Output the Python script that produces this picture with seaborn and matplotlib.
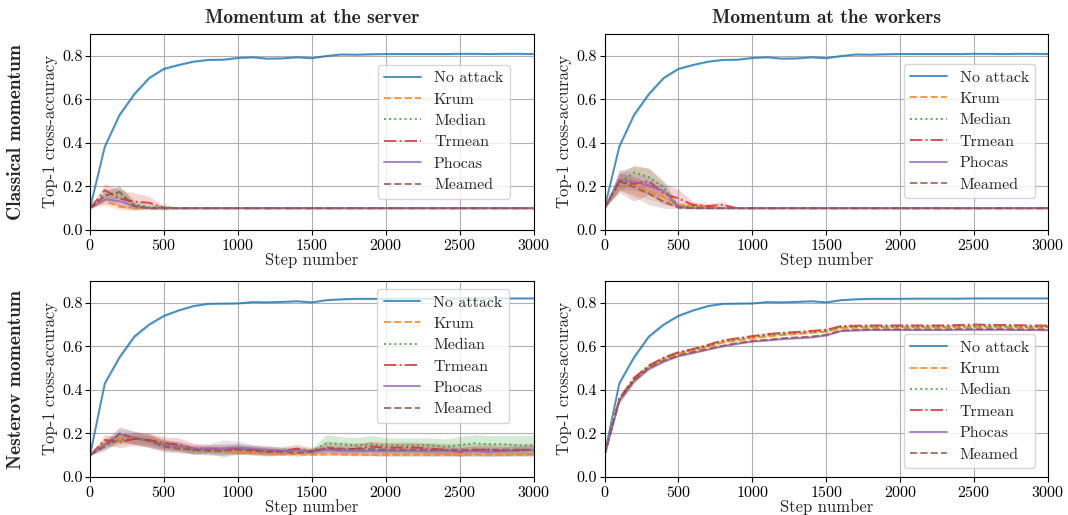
import matplotlib
matplotlib.use("Agg")
import matplotlib.pyplot as plt
import seaborn as sns
import numpy as np

# ---------------------------------------------------------------- data
STEPS = list(range(0, 3001, 100))
METHODS = ["No attack", "Krum", "Median", "Trmean", "Phocas", "Meamed"]
COL_TITLES = ["Momentum at the server", "Momentum at the workers"]
ROW_TITLES = ["Classical momentum", "Nesterov momentum"]

# Classical momentum, no attack (same curve for both placements)
NA_CLASSICAL = [0.100, 0.383, 0.529, 0.624, 0.698, 0.740, 0.758, 0.773, 0.781, 0.782,
                0.790, 0.793, 0.787, 0.788, 0.793, 0.789, 0.799, 0.806, 0.805, 0.807,
                0.808, 0.808, 0.808, 0.808, 0.808, 0.809, 0.809, 0.808, 0.809, 0.809, 0.808]
NA_CLASSICAL_SD = [0.004, 0.008, 0.010, 0.010, 0.008, 0.006, 0.005, 0.004, 0.004, 0.004,
                   0.004, 0.004, 0.004, 0.004, 0.004, 0.004, 0.004, 0.004, 0.004, 0.004,
                   0.004, 0.004, 0.004, 0.004, 0.004, 0.004, 0.004, 0.004, 0.004, 0.004, 0.004]

# Nesterov momentum, no attack
NA_NESTEROV = [0.100, 0.430, 0.550, 0.645, 0.700, 0.740, 0.765, 0.785, 0.795, 0.796,
               0.797, 0.803, 0.802, 0.804, 0.807, 0.802, 0.812, 0.816, 0.818, 0.818,
               0.818, 0.819, 0.819, 0.819, 0.819, 0.820, 0.820, 0.820, 0.820, 0.820, 0.820]
NA_NESTEROV_SD = NA_CLASSICAL_SD

# Classical momentum at the server
KRUM_CS = [0.100, 0.135, 0.107, 0.102, 0.100, 0.100, 0.100, 0.100, 0.100, 0.100,
           0.100, 0.100, 0.100, 0.100, 0.100, 0.100, 0.100, 0.100, 0.100, 0.100,
           0.100, 0.100, 0.100, 0.100, 0.100, 0.100, 0.100, 0.100, 0.100, 0.100, 0.100]
MEDIAN_CS = [0.100, 0.160, 0.168, 0.118, 0.105, 0.105, 0.100, 0.100, 0.100, 0.100,
             0.100, 0.100, 0.100, 0.100, 0.100, 0.100, 0.100, 0.100, 0.100, 0.100,
             0.100, 0.100, 0.100, 0.100, 0.100, 0.100, 0.100, 0.100, 0.100, 0.100, 0.100]
TRMEAN_CS = [0.100, 0.183, 0.145, 0.130, 0.125, 0.102, 0.100, 0.100, 0.100, 0.100,
             0.100, 0.100, 0.100, 0.100, 0.100, 0.100, 0.100, 0.100, 0.100, 0.100,
             0.100, 0.100, 0.100, 0.100, 0.100, 0.100, 0.100, 0.100, 0.100, 0.100, 0.100]
PHOCAS_CS = [0.100, 0.140, 0.132, 0.110, 0.100, 0.100, 0.100, 0.100, 0.100, 0.100,
             0.100, 0.100, 0.100, 0.100, 0.100, 0.100, 0.100, 0.100, 0.100, 0.100,
             0.100, 0.100, 0.100, 0.100, 0.100, 0.100, 0.100, 0.100, 0.100, 0.100, 0.100]
MEAMED_CS = [0.100, 0.158, 0.175, 0.110, 0.100, 0.100, 0.100, 0.100, 0.100, 0.100,
             0.100, 0.100, 0.100, 0.100, 0.100, 0.100, 0.100, 0.100, 0.100, 0.100,
             0.100, 0.100, 0.100, 0.100, 0.100, 0.100, 0.100, 0.100, 0.100, 0.100, 0.100]
KRUM_CS_SD = [0.0, 0.020, 0.015, 0.008, 0.0, 0.0, 0.0, 0.0, 0.0, 0.0, 0.0, 0.0, 0.0, 0.0, 0.0, 0.0,
              0.0, 0.0, 0.0, 0.0, 0.0, 0.0, 0.0, 0.0, 0.0, 0.0, 0.0, 0.0, 0.0, 0.0, 0.0]
MEDIAN_CS_SD = [0.0, 0.020, 0.030, 0.020, 0.010, 0.015, 0.004, 0.0, 0.0, 0.0, 0.0, 0.0, 0.0, 0.0, 0.0, 0.0,
                0.0, 0.0, 0.0, 0.0, 0.0, 0.0, 0.0, 0.0, 0.0, 0.0, 0.0, 0.0, 0.0, 0.0, 0.0]
TRMEAN_CS_SD = [0.0, 0.030, 0.040, 0.040, 0.030, 0.005, 0.0, 0.0, 0.0, 0.0, 0.0, 0.0, 0.0, 0.0, 0.0, 0.0,
                0.0, 0.0, 0.0, 0.0, 0.0, 0.0, 0.0, 0.0, 0.0, 0.0, 0.0, 0.0, 0.0, 0.0, 0.0]
PHOCAS_CS_SD = [0.0, 0.020, 0.020, 0.010, 0.0, 0.0, 0.0, 0.0, 0.0, 0.0, 0.0, 0.0, 0.0, 0.0, 0.0, 0.0,
                0.0, 0.0, 0.0, 0.0, 0.0, 0.0, 0.0, 0.0, 0.0, 0.0, 0.0, 0.0, 0.0, 0.0, 0.0]
MEAMED_CS_SD = [0.0, 0.020, 0.030, 0.015, 0.0, 0.0, 0.0, 0.0, 0.0, 0.0, 0.0, 0.0, 0.0, 0.0, 0.0, 0.0,
                0.0, 0.0, 0.0, 0.0, 0.0, 0.0, 0.0, 0.0, 0.0, 0.0, 0.0, 0.0, 0.0, 0.0, 0.0]

# Classical momentum at the workers
KRUM_CW = [0.100, 0.220, 0.205, 0.180, 0.152, 0.115, 0.112, 0.107, 0.100, 0.100,
           0.100, 0.100, 0.100, 0.100, 0.100, 0.100, 0.100, 0.100, 0.100, 0.100,
           0.100, 0.100, 0.100, 0.100, 0.100, 0.100, 0.100, 0.100, 0.100, 0.100, 0.100]
MEDIAN_CW = [0.100, 0.215, 0.264, 0.242, 0.197, 0.107, 0.107, 0.100, 0.100, 0.100,
             0.100, 0.100, 0.100, 0.100, 0.100, 0.100, 0.100, 0.100, 0.100, 0.100,
             0.100, 0.100, 0.100, 0.100, 0.100, 0.100, 0.100, 0.100, 0.100, 0.100, 0.100]
TRMEAN_CW = [0.100, 0.222, 0.212, 0.225, 0.167, 0.145, 0.115, 0.110, 0.115, 0.100,
             0.100, 0.100, 0.100, 0.100, 0.100, 0.100, 0.100, 0.100, 0.100, 0.100,
             0.100, 0.100, 0.100, 0.100, 0.100, 0.100, 0.100, 0.100, 0.100, 0.100, 0.100]
PHOCAS_CW = [0.100, 0.232, 0.222, 0.204, 0.180, 0.107, 0.100, 0.100, 0.100, 0.100,
             0.100, 0.100, 0.100, 0.100, 0.100, 0.100, 0.100, 0.100, 0.100, 0.100,
             0.100, 0.100, 0.100, 0.100, 0.100, 0.100, 0.100, 0.100, 0.100, 0.100, 0.100]
MEAMED_CW = [0.100, 0.225, 0.197, 0.167, 0.130, 0.103, 0.100, 0.100, 0.100, 0.100,
             0.100, 0.100, 0.100, 0.100, 0.100, 0.100, 0.100, 0.100, 0.100, 0.100,
             0.100, 0.100, 0.100, 0.100, 0.100, 0.100, 0.100, 0.100, 0.100, 0.100, 0.100]
KRUM_CW_SD = [0.0, 0.040, 0.040, 0.040, 0.030, 0.010, 0.012, 0.008, 0.0, 0.0, 0.0, 0.0, 0.0, 0.0, 0.0, 0.0,
              0.0, 0.0, 0.0, 0.0, 0.0, 0.0, 0.0, 0.0, 0.0, 0.0, 0.0, 0.0, 0.0, 0.0, 0.0]
MEDIAN_CW_SD = [0.0, 0.040, 0.035, 0.040, 0.030, 0.010, 0.010, 0.0, 0.0, 0.0, 0.0, 0.0, 0.0, 0.0, 0.0, 0.0,
                0.0, 0.0, 0.0, 0.0, 0.0, 0.0, 0.0, 0.0, 0.0, 0.0, 0.0, 0.0, 0.0, 0.0, 0.0]
TRMEAN_CW_SD = [0.0, 0.050, 0.080, 0.060, 0.050, 0.040, 0.015, 0.012, 0.015, 0.0, 0.0, 0.0, 0.0, 0.0, 0.0, 0.0,
                0.0, 0.0, 0.0, 0.0, 0.0, 0.0, 0.0, 0.0, 0.0, 0.0, 0.0, 0.0, 0.0, 0.0, 0.0]
PHOCAS_CW_SD = [0.0, 0.045, 0.040, 0.040, 0.030, 0.008, 0.0, 0.0, 0.0, 0.0, 0.0, 0.0, 0.0, 0.0, 0.0, 0.0,
                0.0, 0.0, 0.0, 0.0, 0.0, 0.0, 0.0, 0.0, 0.0, 0.0, 0.0, 0.0, 0.0, 0.0, 0.0]
MEAMED_CW_SD = [0.0, 0.040, 0.045, 0.050, 0.030, 0.006, 0.0, 0.0, 0.0, 0.0, 0.0, 0.0, 0.0, 0.0, 0.0, 0.0,
                0.0, 0.0, 0.0, 0.0, 0.0, 0.0, 0.0, 0.0, 0.0, 0.0, 0.0, 0.0, 0.0, 0.0, 0.0]

# Nesterov momentum at the server
KRUM_NS = [0.100, 0.160, 0.180, 0.175, 0.170, 0.150, 0.140, 0.130, 0.125, 0.120,
           0.115, 0.110, 0.110, 0.105, 0.105, 0.102, 0.103, 0.103, 0.102, 0.102,
           0.102, 0.102, 0.102, 0.102, 0.102, 0.102, 0.103, 0.102, 0.102, 0.102, 0.103]
MEDIAN_NS = [0.100, 0.150, 0.170, 0.175, 0.170, 0.150, 0.140, 0.120, 0.125, 0.125,
             0.130, 0.125, 0.120, 0.120, 0.125, 0.120, 0.155, 0.150, 0.145, 0.150,
             0.145, 0.145, 0.145, 0.145, 0.140, 0.145, 0.155, 0.150, 0.150, 0.145, 0.145]
TRMEAN_NS = [0.100, 0.170, 0.160, 0.175, 0.170, 0.155, 0.150, 0.130, 0.130, 0.130,
             0.130, 0.125, 0.120, 0.120, 0.130, 0.120, 0.130, 0.125, 0.130, 0.140,
             0.135, 0.135, 0.135, 0.130, 0.125, 0.115, 0.125, 0.125, 0.120, 0.125, 0.125]
PHOCAS_NS = [0.100, 0.150, 0.195, 0.180, 0.165, 0.145, 0.140, 0.130, 0.130, 0.130,
             0.135, 0.130, 0.125, 0.120, 0.120, 0.115, 0.125, 0.120, 0.120, 0.120,
             0.120, 0.120, 0.120, 0.118, 0.118, 0.118, 0.118, 0.115, 0.118, 0.120, 0.125]
MEAMED_NS = [0.100, 0.140, 0.200, 0.180, 0.165, 0.140, 0.130, 0.125, 0.120, 0.120,
             0.125, 0.120, 0.115, 0.115, 0.110, 0.115, 0.135, 0.130, 0.128, 0.128,
             0.125, 0.125, 0.125, 0.125, 0.125, 0.125, 0.125, 0.125, 0.125, 0.125, 0.125]
KRUM_NS_SD = [0.0, 0.020, 0.020, 0.025, 0.030, 0.025, 0.020, 0.015, 0.012, 0.010, 0.010, 0.008, 0.008,
              0.006, 0.006, 0.004, 0.005, 0.005, 0.005, 0.005, 0.005, 0.005, 0.005, 0.005, 0.005,
              0.005, 0.005, 0.005, 0.005, 0.005, 0.005]
MEDIAN_NS_SD = [0.0, 0.020, 0.020, 0.020, 0.020, 0.020, 0.020, 0.015, 0.020, 0.025, 0.025, 0.020, 0.020,
                0.015, 0.015, 0.012, 0.040, 0.035, 0.035, 0.040, 0.035, 0.035, 0.035, 0.035, 0.035,
                0.040, 0.040, 0.040, 0.040, 0.045, 0.045]
TRMEAN_NS_SD = [0.0, 0.025, 0.025, 0.030, 0.030, 0.030, 0.030, 0.025, 0.020, 0.020, 0.020, 0.020, 0.020,
                0.020, 0.020, 0.015, 0.020, 0.020, 0.020, 0.025, 0.025, 0.025, 0.025, 0.025, 0.020,
                0.020, 0.020, 0.020, 0.020, 0.020, 0.020]
PHOCAS_NS_SD = [0.0, 0.020, 0.030, 0.030, 0.030, 0.025, 0.025, 0.020, 0.020, 0.040, 0.030, 0.020, 0.020,
                0.015, 0.015, 0.012, 0.015, 0.015, 0.015, 0.020, 0.020, 0.020, 0.020, 0.020, 0.020,
                0.020, 0.020, 0.020, 0.020, 0.020, 0.020]
MEAMED_NS_SD = [0.0, 0.020, 0.030, 0.030, 0.030, 0.025, 0.020, 0.020, 0.020, 0.020, 0.020, 0.020, 0.020,
                0.015, 0.015, 0.012, 0.030, 0.030, 0.030, 0.030, 0.030, 0.030, 0.030, 0.030, 0.030,
                0.030, 0.030, 0.030, 0.030, 0.030, 0.030]

# Nesterov momentum at the workers
KRUM_NW = [0.100, 0.355, 0.448, 0.505, 0.540, 0.565, 0.580, 0.598, 0.617, 0.627,
           0.637, 0.645, 0.652, 0.657, 0.662, 0.667, 0.684, 0.686, 0.687, 0.687,
           0.687, 0.687, 0.687, 0.687, 0.688, 0.689, 0.688, 0.688, 0.687, 0.687, 0.686]
MEDIAN_NW = [0.100, 0.358, 0.452, 0.510, 0.545, 0.570, 0.585, 0.603, 0.623, 0.633,
             0.643, 0.652, 0.658, 0.662, 0.667, 0.671, 0.689, 0.691, 0.691, 0.691,
             0.691, 0.691, 0.691, 0.691, 0.692, 0.693, 0.693, 0.692, 0.691, 0.690, 0.690]
TRMEAN_NW = [0.100, 0.360, 0.455, 0.512, 0.548, 0.573, 0.588, 0.607, 0.627, 0.637,
             0.647, 0.656, 0.662, 0.666, 0.671, 0.676, 0.693, 0.695, 0.696, 0.696,
             0.696, 0.696, 0.696, 0.696, 0.698, 0.700, 0.699, 0.698, 0.697, 0.696, 0.695]
PHOCAS_NW = [0.100, 0.350, 0.440, 0.497, 0.530, 0.555, 0.570, 0.585, 0.600, 0.612,
             0.622, 0.627, 0.633, 0.637, 0.641, 0.650, 0.670, 0.673, 0.675, 0.675,
             0.675, 0.675, 0.675, 0.675, 0.676, 0.676, 0.676, 0.676, 0.675, 0.675, 0.674]
MEAMED_NW = [0.100, 0.352, 0.443, 0.500, 0.533, 0.558, 0.573, 0.588, 0.603, 0.615,
             0.625, 0.630, 0.637, 0.641, 0.645, 0.653, 0.673, 0.676, 0.678, 0.678,
             0.678, 0.678, 0.678, 0.678, 0.679, 0.679, 0.679, 0.679, 0.678, 0.678, 0.677]
NW_SD = [0.0, 0.012, 0.010, 0.008, 0.006, 0.005, 0.005, 0.004, 0.004, 0.004, 0.004, 0.004, 0.004,
         0.004, 0.004, 0.004, 0.004, 0.004, 0.004, 0.004, 0.004, 0.004, 0.004, 0.004, 0.004,
         0.004, 0.004, 0.004, 0.004, 0.004, 0.004]

PANELS = {
    (0, 0): ([NA_CLASSICAL, KRUM_CS, MEDIAN_CS, TRMEAN_CS, PHOCAS_CS, MEAMED_CS],
             [NA_CLASSICAL_SD, KRUM_CS_SD, MEDIAN_CS_SD, TRMEAN_CS_SD, PHOCAS_CS_SD, MEAMED_CS_SD]),
    (0, 1): ([NA_CLASSICAL, KRUM_CW, MEDIAN_CW, TRMEAN_CW, PHOCAS_CW, MEAMED_CW],
             [NA_CLASSICAL_SD, KRUM_CW_SD, MEDIAN_CW_SD, TRMEAN_CW_SD, PHOCAS_CW_SD, MEAMED_CW_SD]),
    (1, 0): ([NA_NESTEROV, KRUM_NS, MEDIAN_NS, TRMEAN_NS, PHOCAS_NS, MEAMED_NS],
             [NA_NESTEROV_SD, KRUM_NS_SD, MEDIAN_NS_SD, TRMEAN_NS_SD, PHOCAS_NS_SD, MEAMED_NS_SD]),
    (1, 1): ([NA_NESTEROV, KRUM_NW, MEDIAN_NW, TRMEAN_NW, PHOCAS_NW, MEAMED_NW],
             [NA_NESTEROV_SD, NW_SD, NW_SD, NW_SD, NW_SD, NW_SD]),
}

# legend placement per panel: (loc, anchor in axes coordinates)
LEGEND_POS = {
    (0, 0): ("center right", (0.946, 0.502)),
    (0, 1): ("center right", (0.971, 0.505)),
    (1, 0): ("upper right", (0.944, 0.959)),
    (1, 1): ("lower right", (0.971, 0.046)),
}

# ---------------------------------------------------------------- style
sns.set_theme(style="ticks")
plt.rcParams["font.family"] = ["cmr10", "DejaVu Serif"]
plt.rcParams["axes.formatter.use_mathtext"] = True
plt.rcParams["mathtext.fontset"] = "cm"

palette = sns.color_palette("tab10")
LINESTYLES = ["-", "--", ":", "-.", "-", "--"]

fig, axes = plt.subplots(2, 2, figsize=(10.68, 5.15), dpi=100)
fig.subplots_adjust(left=0.0843, right=0.9813, top=0.934, bottom=0.0738,
                    wspace=0.16, hspace=0.26)

x = np.array(STEPS)
for (r, c), (means, sds) in PANELS.items():
    ax = axes[r, c]
    for k, name in enumerate(METHODS):
        m = np.array(means[k])
        s = np.array(sds[k])
        sns.lineplot(x=x, y=m, ax=ax, color=palette[k], linestyle=LINESTYLES[k],
                     linewidth=1.4, alpha=0.8, label=name, errorbar=None)
        ax.fill_between(x, m - s, m + s, color=palette[k], alpha=0.2, linewidth=0)
    ax.set_xlim(0, 3000)
    ax.set_ylim(0, 0.9)
    ax.set_xticks([0, 500, 1000, 1500, 2000, 2500, 3000])
    ax.set_yticks([0.0, 0.2, 0.4, 0.6, 0.8])
    ax.yaxis.set_major_formatter(matplotlib.ticker.FormatStrFormatter("%.1f"))
    ax.grid(True, color="#b0b0b0", linewidth=0.8)
    ax.tick_params(labelsize=11.5, length=3.5, width=0.8, colors="black", pad=2)
    for sp in ax.spines.values():
        sp.set_color("black")
        sp.set_linewidth(0.8)
    ax.set_xlabel("Step number", fontsize=12, labelpad=0)
    ax.set_ylabel("Top-1 cross-accuracy", fontsize=12, labelpad=3)
    loc, anchor = LEGEND_POS[(r, c)]
    ax.legend(loc=loc, bbox_to_anchor=anchor, borderaxespad=0, fontsize=11.5,
              frameon=True, fancybox=True, framealpha=0.8, edgecolor="#cccccc",
              handlelength=2.3, labelspacing=0.45)

for c, t in enumerate(COL_TITLES):
    axes[0, c].set_title(t, fontsize=14, family="cmb10", pad=8)

for r, t in enumerate(ROW_TITLES):
    pos = axes[r, 0].get_position()
    fig.text(0.015, (pos.y0 + pos.y1) / 2, t, rotation=90, ha="center", va="center",
             fontsize=14, family="cmb10")

fig.savefig("out.png", dpi=100)
